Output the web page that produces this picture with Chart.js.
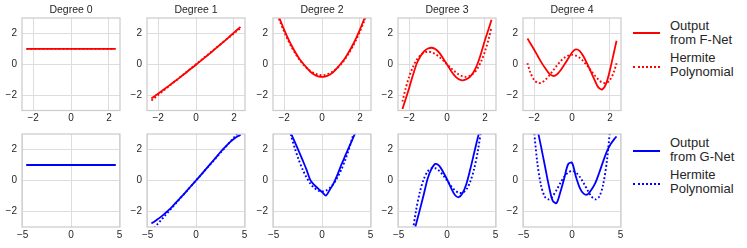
<!DOCTYPE html>
<html>
<head>
<meta charset="utf-8">
<script src="https://cdn.jsdelivr.net/npm/chart.js@4.4.0/dist/chart.umd.min.js"></script>
<style>
  body { margin: 0; background: #fff; width: 747px; height: 248px; overflow: hidden; position: relative;
         font-family: "Liberation Sans", Arial, sans-serif; }
  canvas { position: absolute; }
  .key { position: absolute; width: 27px; height: 0; }
  .lbl { position: absolute; font-size: 13px; line-height: 14px; color: #262626; white-space: nowrap; }
</style>
</head>
<body>
<div class="key" style="left:633px;top:32px;border-top:2px solid #ff0000"></div>
<div class="lbl" style="left:670px;top:19px">Output<br>from F-Net</div>
<div class="key" style="left:633px;top:66px;border-top:2px dotted #ff0000"></div>
<div class="lbl" style="left:670px;top:51px">Hermite<br>Polynomial</div>
<div class="key" style="left:633px;top:150px;border-top:2px solid #0000ff"></div>
<div class="lbl" style="left:670px;top:136px">Output<br>from G-Net</div>
<div class="key" style="left:633px;top:183px;border-top:2px dotted #0000ff"></div>
<div class="lbl" style="left:670px;top:168px">Hermite<br>Polynomial</div>
<script>
// ---- data ----
const titles = ["Degree 0", "Degree 1", "Degree 2", "Degree 3", "Degree 4"];

const xTop = [-2.35,-2.2,-2.0,-1.8,-1.6,-1.4,-1.2,-1.0,-0.8,-0.6,-0.4,-0.2,0,0.2,0.4,0.6,0.8,1.0,1.2,1.4,1.6,1.8,2.0,2.2,2.35];
const xBot = [-4.6,-4.4,-4.0,-3.6,-3.2,-2.8,-2.4,-2.0,-1.6,-1.2,-0.8,-0.4,0,0.4,0.8,1.2,1.6,2.0,2.4,2.8,3.2,3.6,4.0,4.4,4.6];

const xTicksTop = [-2, 0, 2];
const xTicksBot = [-5, 0, 5];
const yTicks = [-2, 0, 2];

// F-Net output (top row)
const fNet0 = [1,1,1,1,1,1,1,1,1,1,1,1,1,1,1,1,1,1,1,1,1,1,1,1,1];
const fNet1 = [-2.22,-2.09,-1.91,-1.73,-1.55,-1.37,-1.18,-1.00,-0.81,-0.62,-0.42,-0.23,-0.03,0.17,0.37,0.57,0.78,0.98,1.19,1.40,1.61,1.83,2.05,2.27,2.42];
const fNet2 = [3.30,2.85,2.25,1.70,1.20,0.76,0.36,0.05,-0.24,-0.50,-0.68,-0.78,-0.82,-0.78,-0.68,-0.50,-0.24,0.05,0.36,0.76,1.20,1.70,2.25,2.85,3.30];
const fNet3 = [-2.90,-2.33,-1.55,-0.72,0.03,0.52,0.85,1.02,1.07,0.98,0.74,0.38,-0.01,-0.40,-0.74,-0.96,-1.04,-0.98,-0.83,-0.52,0.00,0.72,1.55,2.30,2.88];
const fNet4 = [1.67,1.36,0.96,0.52,0.09,-0.28,-0.61,-0.76,-0.67,-0.39,-0.02,0.37,0.76,0.96,0.87,0.52,0.04,-0.50,-1.04,-1.52,-1.63,-1.26,-0.39,0.70,1.52];

// Hermite polynomials (top row, dotted)
const hermTop0 = [1,1,1,1,1,1,1,1,1,1,1,1,1,1,1,1,1,1,1,1,1,1,1,1,1];
const hermTop1 = [-2.35,-2.2,-2.0,-1.8,-1.6,-1.4,-1.2,-1.0,-0.8,-0.6,-0.4,-0.2,0,0.2,0.4,0.6,0.8,1.0,1.2,1.4,1.6,1.8,2.0,2.2,2.35];
const hermTop2 = [3.20,2.72,2.12,1.58,1.10,0.68,0.31,0,-0.25,-0.45,-0.59,-0.68,-0.71,-0.68,-0.59,-0.45,-0.25,0,0.31,0.68,1.10,1.58,2.12,2.72,3.20];
const hermTop3 = [-2.42,-1.65,-0.82,-0.18,0.29,0.59,0.76,0.82,0.77,0.65,0.46,0.24,0,-0.24,-0.46,-0.65,-0.77,-0.82,-0.76,-0.59,-0.29,0.18,0.82,1.65,2.42];
const hermTop4 = [0.07,-0.53,-1.02,-1.21,-1.19,-1.00,-0.73,-0.41,-0.09,0.20,0.42,0.56,0.61,0.56,0.42,0.20,-0.09,-0.41,-0.73,-1.00,-1.19,-1.21,-1.02,-0.53,0.07];

// G-Net output (bottom row)
const gNet0 = [1,1,1,1,1,1,1,1,1,1,1,1,1,1,1,1,1,1,1,1,1,1,1,1,1];
const gNet1 = [-2.77,-2.69,-2.52,-2.33,-2.12,-1.90,-1.65,-1.38,-1.11,-0.84,-0.56,-0.28,0,0.28,0.57,0.86,1.15,1.44,1.74,2.02,2.28,2.52,2.72,2.88,2.95];
const gNet2 = [5.0,4.7,4.15,3.6,3.03,2.47,1.90,1.31,0.70,0.02,-0.28,-0.52,-0.74,-0.97,-0.60,-0.18,0.38,1.02,1.60,2.17,2.73,3.30,3.85,4.4,4.7];
const gNet3 = [-6.3,-5.8,-4.8,-3.8,-2.83,-1.88,-0.90,0.12,0.75,1.07,0.95,0.55,0.08,-0.45,-0.92,-1.08,-0.82,-0.22,0.72,1.77,2.80,3.7,4.6,5.5,6.0];
const gNet4 = [6.5,5.8,4.6,3.4,2.2,0.95,-0.31,-1.30,-1.46,-0.74,0.15,1.05,1.15,0.25,-0.47,-0.85,-0.90,-0.60,-0.17,0.48,1.20,1.88,2.35,2.70,2.84];

// Hermite polynomials (bottom row, dotted)
const hermBot0 = [1,1,1,1,1,1,1,1,1,1,1,1,1,1,1,1,1,1,1,1,1,1,1,1,1];
const hermBot1 = [-3.25,-3.11,-2.83,-2.55,-2.26,-1.98,-1.70,-1.41,-1.13,-0.85,-0.57,-0.28,0,0.28,0.57,0.85,1.13,1.41,1.70,1.98,2.26,2.55,2.83,3.11,3.25];
const hermBot2 = [6.77,6.14,4.95,3.88,2.91,2.07,1.33,0.71,0.20,-0.20,-0.48,-0.65,-0.71,-0.65,-0.48,-0.20,0.20,0.71,1.33,2.07,2.91,3.88,4.95,6.14,6.77];
const hermBot3 = [-10.07,-8.49,-5.77,-3.62,-1.96,-0.74,0.08,0.58,0.79,0.79,0.62,0.34,0,-0.34,-0.62,-0.79,-0.79,-0.58,-0.08,0.74,1.96,3.62,5.77,8.49,10.07];
const hermBot4 = [10.50,7.88,3.88,1.25,-0.31,-1.05,-1.22,-1.02,-0.62,-0.16,0.24,0.52,0.61,0.52,0.24,-0.16,-0.62,-1.02,-1.22,-1.05,-0.31,1.25,3.88,7.88,10.50];

// ---- layout ----
const INK = "#262626";
const GRID = "#dddddd";
const FRAME = "#cccccc";
const PANEL_LEFT = [22, 147.3, 272.6, 397.9, 523.2];
const PANEL_W = 98;
const AXIS_W = 22;

Chart.defaults.font.family = '"Liberation Sans", Arial, sans-serif';
Chart.defaults.color = INK;

const fmtTick = (v) => (v < 0 ? "\u2212" + Math.abs(v) : String(v));

const framePlugin = {
  id: "frame",
  afterDatasetsDraw(chart) {
    const a = chart.chartArea;
    const ctx = chart.ctx;
    ctx.save();
    ctx.strokeStyle = FRAME;
    ctx.lineWidth = 1.25;
    ctx.strokeRect(a.left, a.top, a.right - a.left, a.bottom - a.top);
    ctx.restore();
  },
};

function makePanel(col, row, xs, fit, herm) {
  const color = row === 0 ? "#ff0000" : "#0000ff";
  const xr = row === 0 ? 2.585 : 5.06;
  const xTicks = row === 0 ? xTicksTop : xTicksBot;
  const padTop = row === 0 ? 0 : 6;
  const axisH = row === 0 ? 16.5 : 16;
  const height = row === 0 ? 127 : 115;

  const canvas = document.createElement("canvas");
  canvas.width = AXIS_W + PANEL_W + 4;
  canvas.height = height;
  canvas.style.left = PANEL_LEFT[col] - AXIS_W + "px";
  canvas.style.top = (row === 0 ? 0 : 128) + "px";
  document.body.appendChild(canvas);

  new Chart(canvas.getContext("2d"), {
    type: "line",
    data: {
      datasets: [
        {
          data: xs.map((x, i) => ({ x: x, y: herm[i] })),
          borderColor: color,
          borderWidth: 1.9,
          borderDash: [1.8, 2.2],
          pointRadius: 0,
          tension: 0.3,
          fill: false,
        },
        {
          data: xs.map((x, i) => ({ x: x, y: fit[i] })),
          borderColor: color,
          borderWidth: 1.8,
          pointRadius: 0,
          tension: 0.3,
          fill: false,
        },
      ],
    },
    options: {
      responsive: false,
      animation: false,
      devicePixelRatio: 1,
      events: [],
      layout: { padding: { top: padTop, right: 4, left: 0, bottom: 0 } },
      plugins: {
        legend: { display: false },
        tooltip: { enabled: false },
        title: {
          display: row === 0,
          text: titles[col],
          fullSize: false,
          color: INK,
          font: { size: 10.5, weight: "normal" },
          padding: { top: 3.6, bottom: 1.8 },
        },
      },
      scales: {
        x: {
          type: "linear",
          min: -xr,
          max: xr,
          grid: { color: GRID, lineWidth: 1, drawTicks: false },
          border: { display: false },
          ticks: { font: { size: 10 }, padding: 2, maxRotation: 0, autoSkip: false, callback: fmtTick },
          afterBuildTicks: (s) => { s.ticks = xTicks.map((v) => ({ value: v })); },
          afterFit: (s) => { s.height = axisH; s.paddingLeft = 0; s.paddingRight = 0; },
        },
        y: {
          min: -3,
          max: 3,
          grid: { color: GRID, lineWidth: 1, drawTicks: false },
          border: { display: false },
          ticks: { font: { size: 10 }, padding: 5, autoSkip: false, callback: fmtTick },
          afterBuildTicks: (s) => { s.ticks = yTicks.map((v) => ({ value: v })); },
          afterFit: (s) => { s.width = AXIS_W; s.paddingTop = 0; s.paddingBottom = 0; },
        },
      },
    },
    plugins: [framePlugin],
  });
}

const topFits = [fNet0, fNet1, fNet2, fNet3, fNet4];
const topHerm = [hermTop0, hermTop1, hermTop2, hermTop3, hermTop4];
const botFits = [gNet0, gNet1, gNet2, gNet3, gNet4];
const botHerm = [hermBot0, hermBot1, hermBot2, hermBot3, hermBot4];

for (let c = 0; c < 5; c++) {
  makePanel(c, 0, xTop, topFits[c], topHerm[c]);
  makePanel(c, 1, xBot, botFits[c], botHerm[c]);
}
</script>
</body>
</html>
